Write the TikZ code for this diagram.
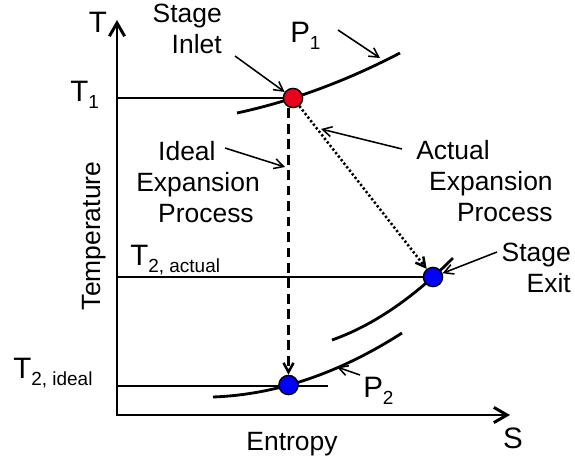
\documentclass[tikz,border=0pt]{standalone}
\usepackage{fontspec}
\setmainfont{Liberation Sans}
\usetikzlibrary{arrows.meta}
\definecolor{inletred}{RGB}{235,0,30}
\definecolor{exitblue}{RGB}{0,0,255}
\newcommand{\lowsub}[1]{{\fontsize{13.5}{14}\selectfont\raisebox{-5pt}{#1}}}

\begin{document}
\begin{tikzpicture}[x=0.025cm, y=-0.025cm,
    dot/.style={circle, draw, line width=1pt, inner sep=0pt, minimum size=4.8mm},
    isobar/.style={line width=2pt},
    tline/.style={line width=1.4pt},
    axis/.style={line width=2.1pt, {Straight Barb[length=3.3mm,width=3.8mm]}-{Straight Barb[length=3.3mm,width=3.8mm]}},
    pointer/.style={line width=1.1pt, -{Straight Barb[length=2.3mm,width=2.5mm]}},
    idealpath/.style={line width=1.8pt, dash pattern=on 7pt off 4pt, -{Straight Barb[length=2.3mm,width=2.5mm]}},
    actualpath/.style={line width=1.8pt, dash pattern=on 1.6pt off 1.6pt, -{Straight Barb[length=2.3mm,width=2.5mm]}},
    lbl/.style={inner sep=0pt, font=\fontsize{18.8}{22}\selectfont},
    big/.style={inner sep=0pt, font=\fontsize{21}{24}\selectfont}]
  \useasboundingbox (0,0) rectangle (575,463);
  % axes
  \coordinate (o) at (117,415);
  \coordinate (ytip) at (117,20);
  \coordinate (xtip) at (510,415);
  \draw[axis] (ytip) |- (xtip);
  \node[big, anchor=base] (tlabel) at (98,32) {T};
  \node[big, anchor=base] (slabel) at (513,448) {S};
  \node[lbl, anchor=base] (entropy) at (292,450) {Entropy};
  \node[lbl, anchor=base, rotate=90] (temperature) at (100,236) {Temperature};
  % pressure lines
  \draw[isobar] (237,113) .. controls (291.3,101.3) and (345.7,81.3) .. (400,53);
  \draw[isobar] (332,340) .. controls (372.3,325.8) and (412.7,298.5) .. (453,258);
  \draw[isobar] (213,397) .. controls (276,394.7) and (339,373.4) .. (402,333);
  \coordinate (idealend) at (328,386);
  \draw[tline] (idealend -| o) -- (idealend);
  % state points
  \node[dot, fill=inletred] (inlet) at (293,98) {};
  \node[dot, fill=exitblue] (exit) at (433,277) {};
  \node[dot, fill=exitblue] (ideal) at (288.5,385) {};
  \draw[tline] (inlet -| o) -- (inlet);
  \draw[tline] (exit -| o) -- (exit);
  \draw[idealpath] (inlet.south -| ideal) -- (ideal);
  \draw[actualpath] (inlet) -- (exit);
  % labels
  \node[big, anchor=base west] (t1) at (70,101) {T\lowsub{1}};
  \node[big, anchor=base west] (t2actual) at (130,265) {T\lowsub{2, actual}};
  \node[big, anchor=base west] (t2ideal) at (13,378) {T\lowsub{2, ideal}};
  \node[big, anchor=base west] (p1) at (290,42) {P\lowsub{1}};
  \node[big, anchor=base west] (p2) at (363,397) {P\lowsub{2}};
  \node[lbl, align=right, anchor=north east] (inletlbl) at (222,4) {Stage\\Inlet};
  \node[lbl, align=left, anchor=north west] (ideallbl) at (136,141)
    {\hspace*{15.6pt}Ideal\\Expansion\\\hspace*{15.6pt}Process};
  \node[lbl, align=left, anchor=north west] (actuallbl) at (416,140)
    {Actual\\\hspace*{9.2pt}Expansion\\\hspace*{29pt}Process};
  \node[lbl, align=right, anchor=north east] (exitlbl) at (571,243) {Stage\\Exit};
  % pointers
  \coordinate (inlettail) at (235,56);
  \coordinate (p1tail) at (338,30);
  \coordinate (p1head) at (380,58);
  \coordinate (idealtail) at (225,148);
  \coordinate (idealhead) at (285,167);
  \coordinate (actualtail) at (402,149);
  \coordinate (actualhead) at (321,129);
  \coordinate (exittail) at (497,252);
  \coordinate (p2tail) at (360,375);
  \coordinate (p2head) at (337,367);
  \draw[pointer] (inlettail) -- (inlet);
  \draw[pointer] (p1tail) -- (p1head);
  \draw[pointer] (idealtail) -- (idealhead);
  \draw[pointer] (actualtail) -- (actualhead);
  \draw[pointer] (exittail) -- (exit);
  \draw[pointer] (p2tail) -- (p2head);
\end{tikzpicture}
\end{document}
